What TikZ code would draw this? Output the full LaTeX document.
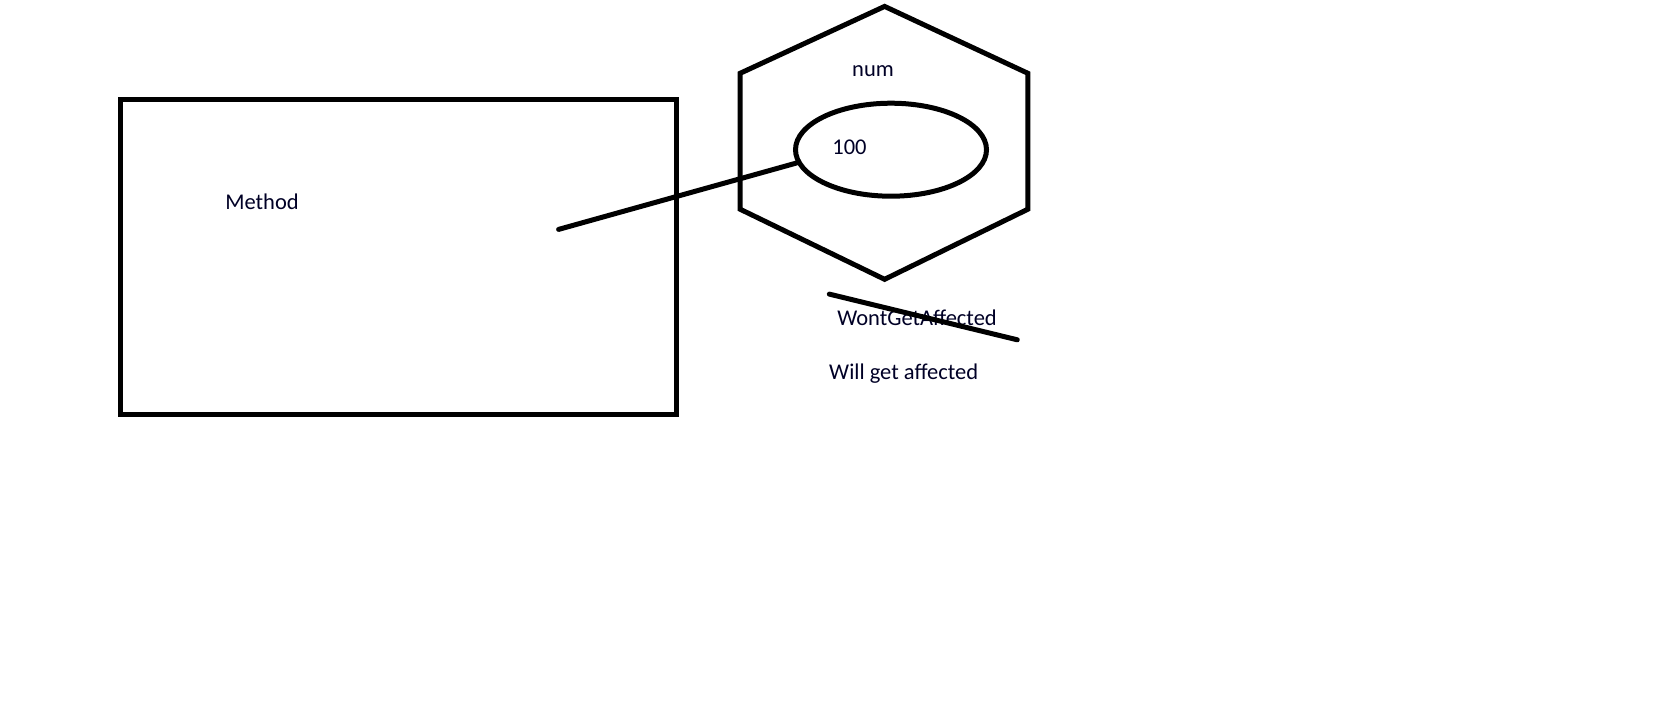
\documentclass[tikz,border=0pt]{standalone}
\usepackage{fontspec}
\setmainfont{Carlito}
\usetikzlibrary{shapes.geometric}
\begin{document}
\begin{tikzpicture}[x=1pt,y=-1pt,
  stroke/.style={line width=5pt, draw=black},
  lbl/.style={font=\fontsize{22.5}{26}\selectfont, inner sep=0pt, text=black!85!blue},
  box/.style={stroke, rectangle, inner sep=0pt, minimum width=556pt, minimum height=315pt},
  oval/.style={stroke, ellipse, inner sep=0pt, minimum width=191pt, minimum height=93pt}]
\useasboundingbox[fill=white] (0,0) rectangle (1665,716);
% method box
\node[box] (method) at (398.2,256.5) {};
\node[lbl] (methodtxt) at (262,201.5) {Method};
% hexagon
\coordinate (hT) at (884.6,6.4);
\coordinate (hUR) at (1027.9,73.3);
\coordinate (hLR) at (1027.9,209.2);
\coordinate (hB) at (884.6,279.3);
\coordinate (hLL) at (740.1,209.2);
\coordinate (hUL) at (740.1,73.3);
\draw[stroke, line join=miter] (hT) -- (hUR) -- (hLR) -- (hB) -- (hLL) -- (hUL) -- cycle;
\node[lbl] (num) at (873,71) {num};
\node[oval] (val) at (891,149.7) {};
\node[lbl] (hundred) at (849.5,147) {100};
% connector
\coordinate (lineend) at (558.6,229.4);
\draw[stroke, line cap=round] (lineend) -- (val.188);
% labels below
\node[lbl] (wont) at (917,318) {WontGetAffected};
\coordinate (strikeA) at (829.3,294.1);
\coordinate (strikeB) at (1017.3,339.8);
\draw[stroke, line cap=round] (strikeA) -- (strikeB);
\node[lbl] (will) at (903.7,373.5) {Will get affected};
\end{tikzpicture}
\end{document}
